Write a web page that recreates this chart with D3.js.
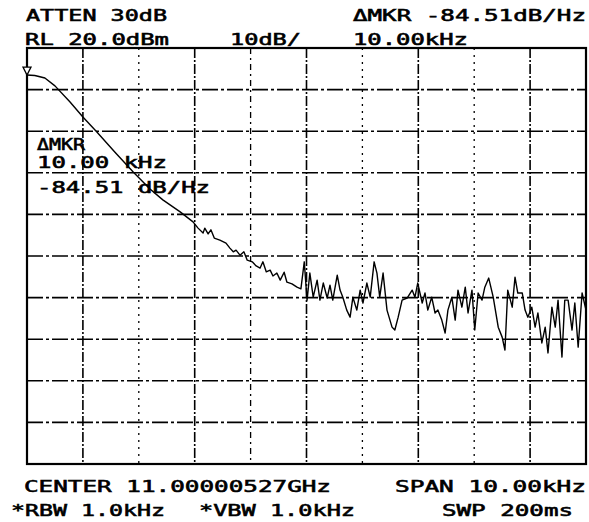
<!DOCTYPE html>
<html>
<head>
<meta charset="utf-8">
<script src="https://cdn.jsdelivr.net/npm/d3@7"></script>
<style>
  body { margin: 0; background: #fff; }
  svg { display: block; }
  .lbl { font-family: "DejaVu Sans Mono", monospace; font-size: 15px; fill: #000; stroke: #000; stroke-width: 0.55px; }
</style>
</head>
<body>
<svg id="chart" width="589" height="522"></svg>
<script>
// offset from marker (kHz) and level (dBm)
const slopeTrace = [
  [0, 13.5], [0.14, 13.4], [0.32, 12.8], [0.50, 10.9], [0.77, 7.0], [1.00, 3.4],
  [1.25, -0.2], [1.57, -5.0], [1.90, -9.8], [2.20, -13.9], [2.43, -16.5], [2.74, -19.4],
  [2.97, -21.8], [3.06, -23.3], [3.15, -24.5], [3.18, -23.3], [3.24, -24.7], [3.29, -23.7],
  [3.35, -25.7], [3.45, -26.2], [3.56, -26.9], [3.63, -28.1], [3.69, -29.0], [3.74, -28.6],
  [3.81, -29.8], [3.88, -29.0], [3.94, -31.0], [4.03, -31.4], [4.10, -32.4], [4.17, -32.9],
  [4.22, -31.4], [4.28, -33.8], [4.35, -33.4], [4.40, -34.8], [4.47, -34.1], [4.53, -35.8],
  [4.60, -33.9], [4.65, -36.3], [4.74, -36.7], [4.83, -37.5], [4.90, -37.9]
];
const noiseTrace = [
  [4.96, -31.4], [5.01, -40.6], [5.06, -34.1], [5.12, -39.9], [5.19, -35.8], [5.24, -40.6],
  [5.30, -36.5], [5.37, -40.1], [5.42, -37.0], [5.47, -40.6], [5.55, -34.6], [5.60, -38.2],
  [5.65, -39.9], [5.72, -43.0], [5.78, -44.7], [5.83, -39.9], [5.90, -43.0], [5.96, -38.2],
  [6.01, -41.3], [6.08, -36.5], [6.14, -39.9], [6.21, -31.4], [6.26, -34.1], [6.31, -39.9],
  [6.37, -34.1], [6.44, -43.0], [6.53, -47.1], [6.58, -47.8], [6.64, -44.7], [6.71, -40.6],
  [6.80, -40.1], [6.89, -38.2], [6.94, -39.9], [6.99, -36.5], [7.07, -41.3], [7.12, -38.9],
  [7.17, -43.0], [7.24, -39.9], [7.30, -43.7], [7.35, -43.0], [7.42, -45.4], [7.48, -48.5],
  [7.53, -43.0], [7.60, -39.9], [7.66, -45.4], [7.71, -38.2], [7.78, -42.3], [7.84, -37.5],
  [7.89, -43.7], [7.96, -38.2], [8.01, -47.8], [8.07, -38.9], [8.14, -40.6], [8.19, -37.5],
  [8.26, -35.3], [8.34, -39.9], [8.43, -47.1], [8.50, -49.5], [8.55, -52.6], [8.60, -38.2],
  [8.68, -42.3], [8.73, -35.1], [8.78, -38.9], [8.86, -38.9], [8.91, -43.0], [8.96, -44.7],
  [9.03, -42.3], [9.09, -47.1], [9.14, -43.7], [9.21, -50.9], [9.27, -47.1], [9.32, -53.3],
  [9.39, -42.3], [9.45, -47.1], [9.50, -40.6], [9.57, -54.3], [9.62, -40.6], [9.68, -40.6],
  [9.75, -47.8], [9.80, -41.3], [9.86, -51.9], [9.93, -38.9], [10.0, -43.0]
];

const freqDivs = [0, 1, 2, 3, 4, 5, 6, 7, 8, 9, 10];
const levelDivs = [20, 10, 0, -10, -20, -30, -40, -50, -60, -70, -80];

const headerLeft = ["ATTEN 30dB", "RL 20.0dBm"];
const headerMid = ["10dB/"];
const headerRight = ["\u0394MKR -84.51dB/Hz", "10.00kHz"];
const markerNote = ["\u0394MKR", "10.00 kHz", "-84.51 dB/Hz"];
const footerLines = [["CENTER 11.00000527GHz", "SPAN 10.00kHz"], ["*RBW 1.0kHz", "*VBW 1.0kHz", "SWP 200ms"]];

const svg = d3.select("#chart");
const x = d3.scaleLinear().domain([0, 10]).range([27, 586]);
const y = d3.scaleLinear().domain([-80, 20]).range([464, 48]);

// grid, plotter style
const inner = freqDivs.slice(1, -1);
svg.append("g").selectAll("line").data(inner).join("line")
  .attr("x1", d => x(d)).attr("x2", d => x(d))
  .attr("y1", y(20)).attr("y2", y(-80))
  .attr("stroke", "#000")
  .attr("stroke-width", d => d % 2 ? 1.6 : 1.3)
  .attr("stroke-dasharray", d => d % 2 ? "10,2,2,2" : (d === 4 ? "6,4,2,4" : "2,5"));

svg.append("g").selectAll("line").data(levelDivs.slice(1, -1)).join("line")
  .attr("x1", x(0)).attr("x2", x(10))
  .attr("y1", d => y(d)).attr("y2", d => y(d))
  .attr("stroke", "#000")
  .attr("stroke-width", 1.6)
  .attr("stroke-dasharray", "16,3,3,3");

svg.append("rect")
  .attr("x", x(0)).attr("y", y(20))
  .attr("width", x(10) - x(0)).attr("height", y(-80) - y(20))
  .attr("fill", "none").attr("stroke", "#000").attr("stroke-width", 2.2);

// trace
const line = d3.line().x(d => x(d[0])).y(d => y(d[1]));
svg.append("path")
  .datum(slopeTrace.concat(noiseTrace))
  .attr("d", line)
  .attr("fill", "none").attr("stroke", "#000")
  .attr("stroke-width", 1.4).attr("stroke-linejoin", "round");

// marker triangle at trace start
const m = slopeTrace[0];
svg.append("path")
  .attr("d", `M${x(m[0]) - 4},${y(m[1]) - 8} L${x(m[0]) + 4},${y(m[1]) - 8} L${x(m[0])},${y(m[1])} Z`)
  .attr("fill", "#fff").attr("stroke", "#000").attr("stroke-width", 1.3);

function label(t, x0, x1, base) {
  svg.append("text").attr("class", "lbl")
    .attr("x", x0).attr("y", base)
    .attr("textLength", x1 - x0).attr("lengthAdjust", "spacingAndGlyphs")
    .text(t);
}

label(headerLeft[0], 26, 167, 21);
label(headerLeft[1], 25, 169, 45);
label(headerMid[0], 230, 301, 45);
label(headerRight[0], 353, 586, 21);
label(headerRight[1], 353, 468, 45);

label(markerNote[0], 37, 85, 150);
label(markerNote[1], 37, 167, 168);
label(markerNote[2], 37, 210, 193);

label(footerLines[0][0], 24, 331, 492);
label(footerLines[0][1], 395, 586, 492);
label(footerLines[1][0], 11, 165, 516);
label(footerLines[1][1], 199, 355, 516);
label(footerLines[1][2], 442, 573, 516);
</script>
</body>
</html>
